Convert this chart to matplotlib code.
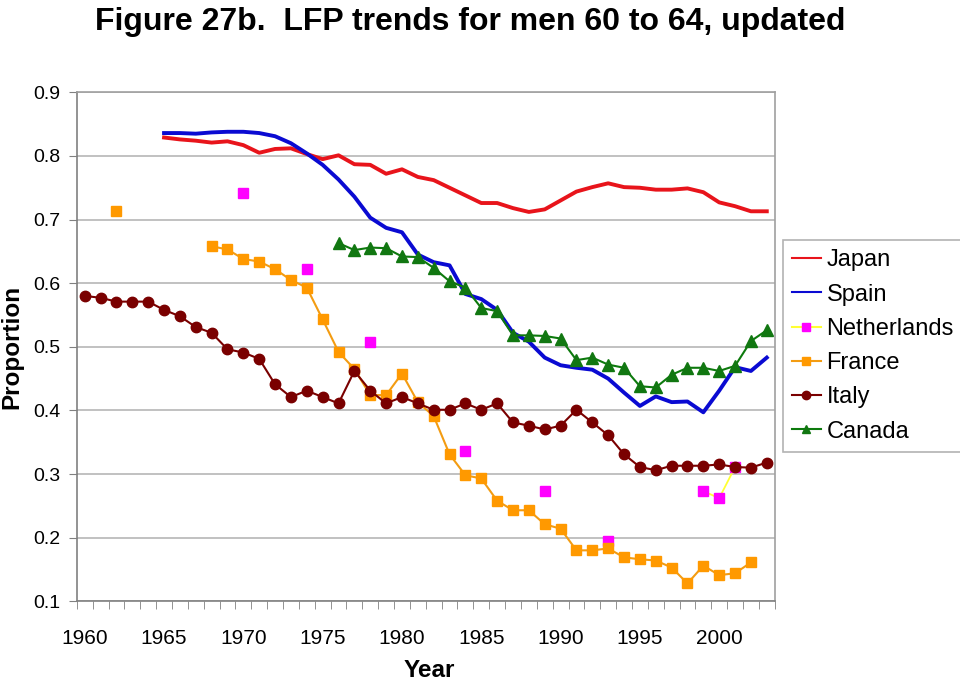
import numpy as np
import matplotlib.pyplot as plt
from matplotlib.ticker import FixedLocator

plt.rcParams['font.family'] = ['Liberation Sans', 'DejaVu Sans']

nan = np.nan
years = list(range(1960, 2004))

# values (nan where a series has no point)
japan = [nan] * 5 + [0.829, 0.826, 0.824, 0.821, 0.823, 0.817, 0.805, 0.811, 0.812, 0.803,
                     0.795, 0.801, 0.787, 0.786, 0.772, 0.779, 0.767, 0.762, 0.750, 0.738,
                     0.726, 0.726, 0.718, 0.712, 0.716, 0.730, 0.744, 0.751, 0.757, 0.751,
                     0.750, 0.747, 0.747, 0.749, 0.743, 0.727, 0.721, 0.713, 0.713]
spain = [nan] * 5 + [0.836, 0.836, 0.835, 0.837, 0.838, 0.838, 0.836, 0.831, 0.820, 0.804,
                     0.786, 0.763, 0.736, 0.703, 0.687, 0.680, 0.645, 0.633, 0.628, 0.583,
                     0.575, 0.558, 0.522, 0.508, 0.483, 0.471, 0.467, 0.464, 0.450, 0.428,
                     0.407, 0.422, 0.413, 0.414, 0.397, 0.431, 0.468, 0.462, 0.483]
netherlands = [nan] * 44
for y, v in [(1970, 0.741), (1974, 0.622), (1978, 0.507), (1984, 0.336),
             (1989, 0.273), (1993, 0.194), (1999, 0.273), (2000, 0.262), (2001, 0.311)]:
    netherlands[y - 1960] = v
france = [nan, nan, 0.713, nan, nan, nan, nan, nan,
          0.658, 0.653, 0.638, 0.634, 0.622, 0.605, 0.593, 0.543, 0.492, 0.465, 0.424, 0.424,
          0.458, 0.413, 0.391, 0.331, 0.298, 0.293, 0.258, 0.243, 0.243, 0.221,
          0.214, 0.180, 0.180, 0.183, 0.169, 0.166, 0.164, 0.153, 0.128, 0.156,
          0.141, 0.144, 0.161, nan]
italy = [0.580, 0.577, 0.571, 0.571, 0.571, 0.558, 0.548, 0.531, 0.522, 0.496,
         0.491, 0.481, 0.441, 0.421, 0.431, 0.421, 0.411, 0.462, 0.431, 0.411,
         0.421, 0.411, 0.401, 0.401, 0.411, 0.401, 0.411, 0.381, 0.376, 0.370,
         0.376, 0.401, 0.381, 0.361, 0.331, 0.311, 0.306, 0.313, 0.313, 0.313,
         0.315, 0.311, 0.310, 0.318]
canada = [nan] * 16 + [0.663, 0.652, 0.656, 0.655, 0.642, 0.641, 0.624, 0.603, 0.593, 0.561,
                       0.556, 0.518, 0.518, 0.517, 0.513, 0.479, 0.483, 0.472, 0.467, 0.438,
                       0.436, 0.456, 0.467, 0.467, 0.462, 0.470, 0.509, 0.526]

fig = plt.figure(figsize=(9.6, 6.84), dpi=100)
ax = fig.add_axes([0.080, 0.121, 0.727, 0.744])

ax.plot(years, japan, color='#e8141b', lw=2.8, label='Japan')
ax.plot(years, spain, color='#0a0ad2', lw=2.8, label='Spain')
ax.plot(years, netherlands, color='#ffff33', lw=1.3, marker='s', ms=7,
        mfc='#ff00ff', mec='#ff00ff', label='Netherlands')
ax.plot(years, france, color='#f39c12', lw=1.5, marker='s', ms=7,
        mfc='#ff9900', mec='#ff9900', label='France')
ax.plot(years, italy, color='#7a0000', lw=1.5, marker='o', ms=7.5,
        mfc='#7a0000', mec='#7a0000', label='Italy')
ax.plot(years, canada, color='#0d7a0d', lw=1.5, marker='^', ms=8,
        mfc='#117711', mec='#117711', label='Canada')

ax.set_xlim(1959.5, 2003.5)
ax.set_ylim(0.1, 0.9)
ax.set_yticks(np.arange(0.1, 0.91, 0.1))
ax.set_yticklabels(['%.1f' % v for v in np.arange(0.1, 0.91, 0.1)], fontsize=14)
ax.set_xticks(range(1960, 2004, 5))
ax.set_xticklabels([str(y) for y in range(1960, 2004, 5)], fontsize=15)
ax.tick_params(axis='x', which='major', length=0, pad=20)
ax.xaxis.set_minor_locator(FixedLocator(np.arange(1959.5, 2004, 1)))
ax.tick_params(axis='x', which='minor', length=6, color='#808080', direction='out')
ax.tick_params(axis='y', length=6, color='#808080', direction='out', pad=6)

ax.grid(axis='y', color='#b0b0b0', lw=1.1)
ax.set_axisbelow(True)
for s in ax.spines.values():
    s.set_color('#a0a0a0')
    s.set_linewidth(1.2)
ax.spines['left'].set_color('#808080')
ax.spines['bottom'].set_color('#808080')

ax.set_ylabel('Proportion', fontsize=17.5, fontweight='bold')
ax.yaxis.set_label_coords(-0.077, 0.5)
ax.set_xlabel('Year', fontsize=17.5, fontweight='bold')
ax.xaxis.set_label_coords(0.505, -0.113)

fig.suptitle('Figure 27b.  LFP trends for men 60 to 64, updated', fontsize=23,
             fontweight='bold', x=0.49, y=0.99)

leg = ax.legend(loc='upper left', bbox_to_anchor=(1.0115, 0.71), fontsize=17,
                frameon=True, fancybox=False, edgecolor='#a0a0a0',
                handlelength=1.2, handletextpad=0.25, borderpad=0.4,
                labelspacing=0.52, borderaxespad=0)
leg.get_frame().set_linewidth(1.2)
for h in leg.legend_handles:
    h.set_markersize(6)
    h.set_linewidth(1.5)

plt.savefig('out.png', dpi=100)
